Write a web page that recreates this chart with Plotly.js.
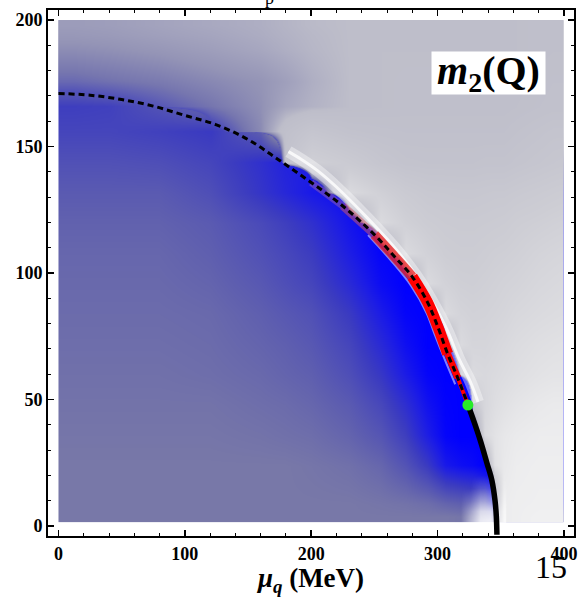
<!DOCTYPE html>
<html><head><meta charset="utf-8">
<script src="https://cdn.plot.ly/plotly-3.0.1.min.js"></script>
<style>html,body{margin:0;padding:0;background:#fff;}#chart{width:578px;height:597px;}</style>
</head><body><div id="chart"></div>
<script>
// grid of the density plot (mu_q in MeV, T in MeV)
const muNodes = [4, 12, 40, 80, 120, 160, 180, 200, 230, 255, 275, 292, 306, 318, 328, 337, 345, 352, 362, 380, 391, 397];
const TNodes = [4, 9, 24, 36, 48, 60, 72, 84, 96, 108, 120, 132, 144, 156, 166, 176, 188, 194, 198];

// inner field (0 = pure blue, 0.5 = grey-purple, 1 = grey)
const fieldBlue = [
  [.50,.50,.50,.50,.50,.50,.50,.50,.50,.50,.50,.50,.50,.49,.48,.45,.35,.35,.35,.35,.35,.35],
  [.50,.50,.50,.50,.50,.50,.50,.50,.50,.49,.48,.46,.42,.40,.38,.35,.10,.10,.10,.10,.10,.10],
  [.50,.50,.50,.50,.50,.50,.50,.49,.47,.43,.35,.24,.10,.06,.04,0,0,0,0,0,0,0],
  [.49,.49,.49,.49,.49,.48,.47,.46,.42,.36,.26,.12,.02,0,0,0,0,0,0,0,0,0],
  [.48,.48,.48,.48,.48,.46,.45,.43,.38,.30,.19,.07,.01,0,0,0,0,0,0,0,0,0],
  [.47,.47,.47,.47,.46,.44,.42,.40,.33,.23,.11,.02,0,0,0,0,0,0,0,0,0,0],
  [.46,.46,.46,.46,.45,.42,.40,.37,.29,.17,.06,0,0,0,0,0,0,0,0,0,0,0],
  [.45,.45,.45,.45,.44,.40,.37,.34,.24,.11,.02,0,0,0,0,0,0,0,0,0,0,0],
  [.44,.44,.44,.44,.42,.37,.33,.29,.17,.05,0,0,0,0,0,0,0,0,0,0,0,0],
  [.43,.43,.43,.43,.40,.34,.30,.25,.12,.02,0,0,0,0,0,0,0,0,0,0,0,0],
  [.41,.41,.41,.41,.38,.31,.26,.20,.08,0,0,0,0,0,0,0,0,0,0,0,0,0],
  [.38,.38,.38,.38,.33,.22,.16,.10,.05,.05,.10,.10,.10,.10,.10,.10,.10,.10,.10,.10,.10,.10],
  [.34,.34,.34,.33,.29,.20,.14,.12,.20,.30,.40,.50,.50,.50,.50,.50,.50,.50,.50,.50,.50,.50],
  [.29,.29,.29,.27,.24,.40,.80,1,1,1,1,1,1,1,1,1,1,1,1,1,1,1],
  [.26,.26,.27,.35,.45,.55,.80,.95,1,1,1,1,1,1,1,1,1,1,1,1,1,1],
  [.45,.45,.50,.58,.65,.74,.85,.90,1,1,1,1,1,1,1,1,1,1,1,1,1,1],
  [.58,.58,.60,.63,.68,.76,.82,.88,1,1,1,1,1,1,1,1,1,1,1,1,1,1],
  [.63,.63,.64,.67,.71,.78,.83,.88,1,1,1,1,1,1,1,1,1,1,1,1,1,1],
  [.66,.66,.67,.69,.73,.79,.84,.89,1,1,1,1,1,1,1,1,1,1,1,1,1,1]
];

// outer field (below -0.125 transparent; -0.12..0.1 purple-grey; 0.1..1 grey to white)
const fieldOuter = [
  [-6,-6,-6,-6,-6,-6,-6,-6,-6,-6,-6,-6,-6,-6,-6,-6,-.35,.85,.87,.90,.90,.90],
  [-6,-6,-6,-6,-6,-6,-6,-6,-6,-6,-6,-6,-6,-6,-6,-6,-.17,.85,.87,.88,.88,.88],
  [-6,-6,-6,-6,-6,-6,-6,-6,-6,-6,-6,-6,-6,-6,-6,-.24,.70,.80,.85,.87,.87,.87],
  [-6,-6,-6,-6,-6,-6,-6,-6,-6,-6,-6,-6,-6,-6,-.63,.60,.72,.78,.82,.85,.85,.85],
  [-6,-6,-6,-6,-6,-6,-6,-6,-6,-6,-6,-6,-6,-3.95,.30,.55,.65,.70,.75,.80,.82,.82],
  [-6,-6,-6,-6,-6,-6,-6,-6,-6,-6,-6,-6,-1.7,.10,.60,.57,.60,.63,.67,.72,.74,.74],
  [-6,-6,-6,-6,-6,-6,-6,-6,-6,-6,-6,-6,-.19,.60,.52,.52,.55,.58,.62,.67,.69,.70],
  [-6,-6,-6,-6,-6,-6,-6,-6,-6,-6,-6,-.47,.60,.50,.47,.48,.50,.52,.56,.60,.62,.63],
  [-6,-6,-6,-6,-6,-6,-6,-6,-6,-6,-.52,.60,.48,.43,.42,.44,.46,.48,.50,.55,.57,.58],
  [-6,-6,-6,-6,-6,-6,-6,-6,-6,-.44,.60,.47,.40,.38,.38,.40,.42,.43,.45,.50,.52,.53],
  [-6,-6,-6,-6,-6,-6,-6,-6,-.47,.60,.45,.38,.35,.34,.34,.35,.36,.37,.40,.43,.45,.46],
  [-6,-6,-6,-6,-6,-6,-3.7,-.61,.60,.45,.35,.30,.29,.28,.28,.29,.30,.30,.32,.35,.37,.38],
  [-6,-6,-6,-6,-6,-2,.20,.45,.35,.25,.20,.19,.19,.19,.19,.20,.20,.20,.22,.25,.27,.28],
  [-6,-6,-6,-.61,-.16,-.03,.15,.25,.18,.16,.15,.15,.15,.15,.15,.15,.15,.15,.17,.20,.22,.22],
  [-.164,-.164,-.15,-.11,-.07,-.02,.04,.07,.10,.11,.12,.12,.12,.12,.12,.12,.12,.12,.13,.15,.16,.16],
  [-.086,-.086,-.075,-.06,-.035,-.01,.02,.06,.10,.11,.12,.12,.12,.12,.12,.12,.12,.12,.12,.14,.15,.15],
  [-.027,-.027,-.02,-.005,.015,.04,.06,.08,.10,.11,.11,.11,.11,.11,.11,.11,.11,.11,.11,.12,.13,.13],
  [-.001,-.001,.005,.02,.035,.055,.07,.085,.10,.11,.11,.11,.11,.11,.11,.11,.11,.11,.11,.12,.13,.13],
  [.010,.010,.015,.03,.045,.06,.075,.09,.10,.11,.11,.11,.11,.11,.11,.11,.11,.11,.11,.12,.13,.13]
];

// white blob at the lower end of the first-order line
const blobMu = [318, 326, 334, 342, 350];
const blobT = [2.5, 6, 10, 15, 20];
const blobGlow = [
  [0, .45, .85, .90, .60],
  [0, .35, .75, .80, .50],
  [0, .15, .45, .50, .30],
  [0, 0, .15, .20, .10],
  [0, 0, 0, 0, 0]
];

// dashed boundary (crossover line)
const dashMu = [0, 25, 50, 75, 100, 125, 150, 175, 200, 225, 250, 265, 280, 292, 300, 308, 316, 324];
const dashT  = [171, 170.3, 168.6, 166, 162.3, 158.6, 152.8, 144.5, 135.8, 126.5, 115.2, 107, 98.5, 88.5, 79, 68, 58.5, 48];
// solid first-order line
const solidMu = [324, 329, 334, 339, 343, 345.5, 346.5, 347];
const solidT  = [48, 41, 33.5, 25, 18, 10, 4, -3.5];
// white ridge outside the boundary
const ridgeMu = [182, 192, 205, 220, 244, 266, 283, 296, 308, 317, 326, 332];
const ridgeT  = [148, 145, 140.5, 134, 122, 110, 99, 88.5, 77, 66, 57, 49];
// thin light line on the inner side of the red band
const innerMu = [245, 263, 279, 291.5, 297.5, 305.5, 314];
const innerT  = [115, 105, 95, 84, 76, 66, 56];
// critical end point
const cepMu = [324];
const cepT  = [47.8];

const xTicks = [0, 100, 200, 300, 400];
const yTicks = [0, 50, 100, 150, 200];

const blueScale = [
  [0, 'rgb(0,0,255)'], [0.12, 'rgb(30,30,228)'], [0.25, 'rgb(60,60,192)'],
  [0.40, 'rgb(95,95,175)'], [0.50, 'rgb(120,120,168)'], [0.62, 'rgb(148,148,180)'],
  [0.75, 'rgb(170,170,192)'], [1, 'rgb(190,190,202)']
];
const outerScale = [
  [0, 'rgba(80,80,185,0)'], [0.005, 'rgba(80,80,185,1)'], [0.05, 'rgba(118,118,175,1)'],
  [0.1, 'rgba(148,148,182,1)'], [0.15, 'rgba(168,168,192,1)'], [0.2, 'rgba(190,190,202,1)'],
  [0.467, 'rgba(205,205,212,1)'], [0.733, 'rgba(225,225,228,1)'], [1, 'rgba(248,248,248,1)']
];
const whiteScale = [[0, 'rgba(255,255,255,0)'], [1, 'rgba(255,255,255,1)']];

const traces = [];
traces.push({type:'heatmap', x:muNodes, y:TNodes, z:fieldBlue, zmin:0, zmax:1, zsmooth:'best',
  colorscale:blueScale, showscale:false, hoverinfo:'skip'});
traces.push({type:'heatmap', x:muNodes, y:TNodes, z:fieldOuter, zmin:-0.125, zmax:1, zsmooth:'best',
  colorscale:outerScale, showscale:false, hoverinfo:'skip'});
traces.push({type:'heatmap', x:blobMu, y:blobT, z:blobGlow, zmin:0, zmax:1, zsmooth:'best',
  colorscale:whiteScale, showscale:false, hoverinfo:'skip'});
traces.push({type:'scatter', mode:'lines', x:ridgeMu, y:ridgeT, line:{color:'rgba(255,255,255,0.4)', width:12, shape:'spline'}, hoverinfo:'skip'});
traces.push({type:'scatter', mode:'lines', x:ridgeMu, y:ridgeT, line:{color:'rgba(255,255,255,0.8)', width:3, shape:'spline'}, hoverinfo:'skip'});
traces.push({type:'scatter', mode:'lines', x:innerMu, y:innerT, line:{color:'rgba(255,255,255,0.5)', width:2, shape:'spline'}, hoverinfo:'skip'});

// red band along the dashed line: [first index, last index, colour, width]
const redBand = [
  [8, 9, 'rgba(205,130,140,0.35)', 7],
  [9, 10, 'rgba(215,90,95,0.5)', 8],
  [10, 12, 'rgba(235,40,40,0.8)', 10],
  [12, 15, 'rgb(255,0,0)', 11],
  [15, 16, 'rgb(255,0,0)', 7],
  [16, 17, 'rgb(255,0,0)', 4]
];
redBand.forEach(function(s){
  traces.push({type:'scatter', mode:'lines', x:dashMu.slice(s[0], s[1]+1), y:dashT.slice(s[0], s[1]+1),
    line:{color:s[2], width:s[3], shape:'spline'}, hoverinfo:'skip'});
});
traces.push({type:'scatter', mode:'lines', x:dashMu, y:dashT, line:{color:'black', width:3, dash:'6px,4px', shape:'spline'}, hoverinfo:'skip'});
traces.push({type:'scatter', mode:'lines', x:solidMu, y:solidT, line:{color:'black', width:5.5, shape:'spline'}, hoverinfo:'skip'});
traces.push({type:'scatter', mode:'markers', x:cepMu, y:cepT, marker:{color:'rgb(40,235,40)', size:11}, hoverinfo:'skip', cliponaxis:false});

const tickFont = {family:'Liberation Serif', size:18, weight:'bold', color:'black'};
const axisCommon = {
  ticks:'inside', ticklen:6, tickwidth:1.5, tickcolor:'black',
  showline:true, linewidth:2, linecolor:'black', mirror:'ticks',
  showgrid:false, zeroline:false, tickfont:tickFont, tickmode:'array'
};
const layout = {
  width:578, height:597,
  margin:{l:48, r:4, t:10, b:61, pad:0},
  paper_bgcolor:'white', plot_bgcolor:'white',
  showlegend:false,
  xaxis:Object.assign({}, axisCommon, {range:[-8.3, 408], tickvals:xTicks, ticktext:xTicks.map(String),
    minor:{tickmode:'linear', tick0:0, dtick:20, ticks:'inside', ticklen:3, tickwidth:1, tickcolor:'black'},
    title:{text:'<i>μ</i><sub><i>q</i></sub> (MeV)', font:{family:'Liberation Serif', size:27, weight:'bold', color:'black'}, standoff:2}}),
  yaxis:Object.assign({}, axisCommon, {range:[-4, 204], tickvals:yTicks, ticktext:yTicks.map(String),
    minor:{tickmode:'linear', tick0:0, dtick:10, ticks:'inside', ticklen:3, tickwidth:1, tickcolor:'black'}}),
  annotations:[
    {xref:'paper', yref:'paper', x:0.8384, y:0.8806, xanchor:'center', yanchor:'middle',
     text:'<b><i>m</i><sub>2</sub>(Q)</b>', font:{family:'Liberation Serif', size:40, color:'black'},
     bgcolor:'white', borderpad:0, width:113, height:42, showarrow:false},
    {xref:'paper', yref:'paper', x:0.956, y:-0.0589, xanchor:'center', yanchor:'middle',
     text:'15', font:{family:'Liberation Serif', size:32, color:'black'}, showarrow:false},
    {xref:'paper', yref:'paper', x:0.422, y:1.0228, xanchor:'center', yanchor:'middle',
     text:'p', font:{family:'Liberation Serif', size:18, color:'black'}, showarrow:false}
  ]
};
Plotly.newPlot('chart', traces, layout, {displayModeBar:false, staticPlot:true});
</script>
</body></html>
